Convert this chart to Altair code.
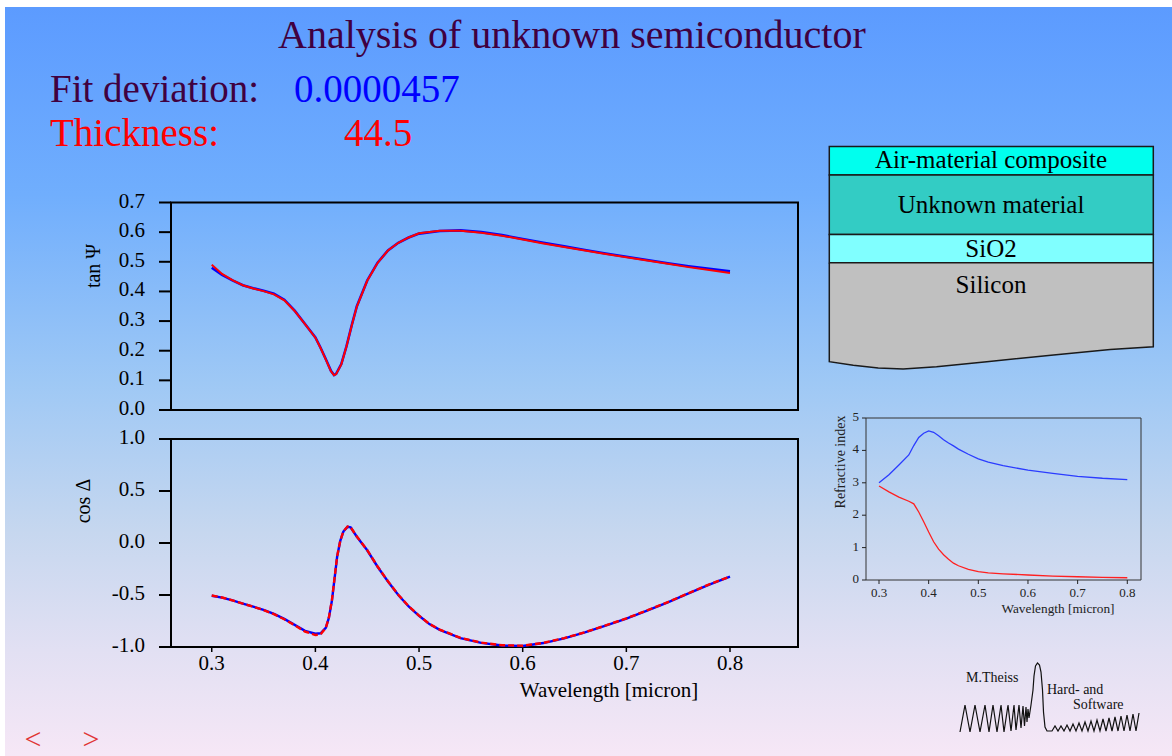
import altair as alt
import pandas as pd

FONT = "Liberation Serif"

# ---------------- data ----------------
# tan(Psi): measured (blue) and fitted (red)
TAN_LAMBDA = [0.30, 0.31, 0.32, 0.33, 0.34, 0.35, 0.36, 0.37, 0.38, 0.39, 0.40,
              0.405, 0.41, 0.415, 0.418, 0.42, 0.425, 0.43, 0.435, 0.44,
              0.45, 0.46, 0.47, 0.48, 0.49, 0.50,
              0.52, 0.54, 0.56, 0.58, 0.60, 0.62, 0.64, 0.66, 0.68, 0.70,
              0.72, 0.74, 0.76, 0.78, 0.80]
TAN_MEAS = [0.480, 0.456, 0.437, 0.421, 0.411, 0.402, 0.392, 0.372, 0.335, 0.290, 0.245,
            0.210, 0.172, 0.132, 0.118, 0.122, 0.155, 0.215, 0.285, 0.350,
            0.437, 0.497, 0.538, 0.564, 0.582, 0.595,
            0.604, 0.606, 0.600, 0.590, 0.577, 0.564, 0.552, 0.540, 0.528, 0.517,
            0.506, 0.495, 0.485, 0.476, 0.468]
TAN_FIT = [0.490, 0.459, 0.438, 0.421, 0.410, 0.401, 0.390, 0.370, 0.334, 0.290, 0.244,
           0.209, 0.171, 0.131, 0.117, 0.121, 0.154, 0.214, 0.284, 0.349,
           0.436, 0.496, 0.538, 0.564, 0.582, 0.596,
           0.605, 0.605, 0.598, 0.588, 0.575, 0.562, 0.550, 0.538, 0.526, 0.515,
           0.504, 0.493, 0.482, 0.472, 0.462]

# cos(Delta): measured (blue) and fitted (red, dashed)
COS_LAMBDA = [0.30, 0.31, 0.32, 0.33, 0.34, 0.35, 0.36, 0.37, 0.38, 0.39, 0.40,
              0.405, 0.41, 0.413, 0.416, 0.419, 0.421, 0.424, 0.427, 0.431, 0.434,
              0.44, 0.45, 0.46, 0.47, 0.48, 0.49, 0.50, 0.51, 0.52,
              0.54, 0.56, 0.58, 0.60, 0.62, 0.64, 0.66, 0.68, 0.70, 0.72, 0.74,
              0.76, 0.78, 0.80]
COS_MEAS = [-0.507, -0.525, -0.552, -0.582, -0.612, -0.642, -0.682, -0.730, -0.787, -0.845, -0.872,
            -0.868, -0.815, -0.720, -0.550, -0.300, -0.130, 0.020, 0.110, 0.155, 0.150,
            0.060, -0.070, -0.228, -0.370, -0.500, -0.610, -0.700, -0.780, -0.835,
            -0.915, -0.960, -0.985, -0.990, -0.962, -0.917, -0.860, -0.795, -0.727, -0.650, -0.570,
            -0.485, -0.400, -0.324]
COS_FIT = [-0.505, -0.524, -0.552, -0.583, -0.613, -0.644, -0.684, -0.733, -0.790, -0.852, -0.885,
           -0.878, -0.818, -0.718, -0.545, -0.295, -0.128, 0.022, 0.112, 0.158, 0.152,
           0.062, -0.068, -0.226, -0.368, -0.498, -0.608, -0.698, -0.778, -0.833,
           -0.913, -0.958, -0.983, -0.988, -0.960, -0.915, -0.858, -0.793, -0.725, -0.648, -0.568,
           -0.483, -0.398, -0.322]

# refractive index n (blue) and extinction k (red) of the unknown material
NK_LAMBDA = [0.30, 0.32, 0.34, 0.36, 0.37, 0.38, 0.39, 0.40, 0.41, 0.42, 0.43, 0.44,
             0.45, 0.46, 0.48, 0.50, 0.52, 0.55, 0.60, 0.65, 0.70, 0.75, 0.80]
N_VALUES = [3.00, 3.25, 3.55, 3.86, 4.15, 4.40, 4.53, 4.60, 4.56, 4.45, 4.33, 4.23,
            4.14, 4.04, 3.88, 3.74, 3.64, 3.53, 3.39, 3.29, 3.20, 3.14, 3.10]
K_VALUES = [2.90, 2.72, 2.56, 2.43, 2.35, 2.10, 1.80, 1.48, 1.18, 0.95, 0.78, 0.64,
            0.52, 0.44, 0.33, 0.26, 0.22, 0.19, 0.155, 0.12, 0.10, 0.08, 0.07]

# tick labels
TICKS_TAN = [0.0, 0.1, 0.2, 0.3, 0.4, 0.5, 0.6, 0.7]
TICKS_COS = [-1.0, -0.5, 0.0, 0.5, 1.0]
TICKS_LAMBDA = [0.3, 0.4, 0.5, 0.6, 0.7, 0.8]
TICKS_NK_Y = [0, 1, 2, 3, 4, 5]
TICKS_NK_X = [0.3, 0.4, 0.5, 0.6, 0.7, 0.8]

# layer stack (depth in relative units, 0 = top of stack)
LAYER_NAMES = ["Air-material composite", "Unknown material", "SiO2"]
LAYER_TOP = [0.0, 12.8, 39.6]
LAYER_BOTTOM = [12.8, 39.6, 52.2]
LAYER_COLORS = ["#00ffee", "#33ccc4", "#80ffff"]
SILICON_TOP = 52.2
SILICON_X = [0.0, 0.074, 0.151, 0.228, 0.331, 0.486, 0.692, 0.867, 1.0]
SILICON_BOTTOM = [96.7, 98.3, 99.6, 100.0, 99.0, 96.7, 93.7, 91.2, 90.0]

# logo trace (logo units)
LOGO_X = [2, 7, 12, 17, 22, 27, 31, 35, 39, 43, 46, 50, 53, 56, 58, 61, 63, 65, 66.5, 68,
          69, 70, 71, 73, 75, 76, 77.5, 79.5, 81.5, 83, 84.5, 85.5, 87, 89, 94,
          97, 100, 103, 106, 109, 112, 115, 118, 121, 124, 127, 130, 133, 136, 139, 142,
          145, 148, 151, 154, 157, 160, 163, 166, 169, 172, 175, 178, 181]
LOGO_Y = [1, 28, 1, 28, 1, 28, 1, 28, 1, 28, 1, 28, 2, 28, 3, 28, 5, 27, 7, 26,
          11, 24, 15, 28, 43, 57, 67, 70, 68, 61, 43, 21, 6, 2, 2,
          7, 2, 7, 2, 8, 2, 9, 2, 10, 2, 11, 2, 12, 2, 13, 2,
          14, 2, 15, 2, 16, 2, 17, 2, 18, 2, 19, 2, 20]

# ---------------- scales ----------------
def S(domain, rng):
    return alt.Scale(domain=domain, range=rng, nice=False, zero=False)

X_MAIN_DOM = [0.2607, 0.8656]
XS_MAIN = S(X_MAIN_DOM, [171, 798])
YS_TOP = S([0.0, 0.7], [410, 202.5])
YS_BOT = S([-1.0, 1.0], [647, 439])
X_NK_DOM = [0.2738, 0.8276]
XS_NK = S(X_NK_DOM, [866, 1141])
YS_NK = S([0, 5], [580, 418])
XS_DIAG = S([0, 1], [829.3, 1153.3])
YS_DIAG = S([0, 100], [146.5, 369])
XS_LOGO = S([0, 182], [958, 1140])
YS_LOGO = S([0, 75], [733, 658])

ONE = pd.DataFrame({"k": [0]})


def label(text, x, y, size, color, align="left", angle=None, baseline="alphabetic"):
    kw = dict(text=text, font=FONT, fontSize=size, color=color, align=align, baseline=baseline)
    if angle is not None:
        kw["angle"] = angle
    return alt.Chart(ONE).mark_text(**kw).encode(x=alt.value(x), y=alt.value(y))


def fmt(v, nd):
    return f"{v:.{nd}f}"


def y_axis(values, scale, nd, x_axis, tick_len, tick_w, gap, size, color):
    df = pd.DataFrame({"v": values, "t": [fmt(v, nd) for v in values]})
    ticks = alt.Chart(df).mark_rule(color=color, strokeWidth=tick_w).encode(
        y=alt.Y("v:Q", scale=scale, axis=None),
        x=alt.value(x_axis - tick_len), x2=alt.value(x_axis))
    labels = alt.Chart(df).mark_text(font=FONT, fontSize=size, color=color, align="right",
                                     baseline="middle", dy=-1).encode(
        y=alt.Y("v:Q", scale=scale, axis=None), x=alt.value(x_axis - tick_len - gap), text="t:N")
    return [ticks, labels]


def x_axis(values, scale, nd, y_axis_px, tick_len, tick_w, label_base, size, color):
    df = pd.DataFrame({"v": values, "t": [fmt(v, nd) for v in values]})
    ticks = alt.Chart(df).mark_rule(color=color, strokeWidth=tick_w).encode(
        x=alt.X("v:Q", scale=scale, axis=None),
        y=alt.value(y_axis_px), y2=alt.value(y_axis_px + tick_len))
    labels = alt.Chart(df).mark_text(font=FONT, fontSize=size, color=color, align="center",
                                     baseline="alphabetic").encode(
        x=alt.X("v:Q", scale=scale, axis=None), y=alt.value(label_base), text="t:N")
    return [ticks, labels]


layers = []

# background gradient
layers.append(
    alt.Chart(ONE).mark_rect(
        fill=alt.Gradient(
            gradient="linear", x1=0, x2=0, y1=0, y2=1,
            stops=[
                alt.GradientStop(color="#5c9bff", offset=0.0),
                alt.GradientStop(color="#70aefd", offset=0.25),
                alt.GradientStop(color="#9ec8f5", offset=0.5),
                alt.GradientStop(color="#c6d7ef", offset=0.7),
                alt.GradientStop(color="#e2e0f3", offset=0.86),
                alt.GradientStop(color="#f6e7f6", offset=1.0),
            ],
        )
    ).encode(x=alt.value(5), x2=alt.value(1172), y=alt.value(7), y2=alt.value(756))
)

# header texts
layers += [
    label("Analysis of unknown semiconductor", 278, 48, 40, "#400040"),
    label("Fit deviation:", 50, 102, 39, "#400040"),
    label("0.0000457", 294, 102, 39, "#0000ff"),
    label("Thickness:", 50, 146, 39, "#ff0000"),
    label("44.5", 344, 146, 39, "#ff0000"),
]

# ---- top plot: tan Psi ----
top_df = pd.DataFrame({"lam": TAN_LAMBDA, "meas": TAN_MEAS, "fit": TAN_FIT})
frame_top = pd.DataFrame({"x0": [X_MAIN_DOM[0]], "x1": [X_MAIN_DOM[1]], "y0": [0.0], "y1": [0.7]})
layers.append(
    alt.Chart(frame_top).mark_rect(fillOpacity=0, stroke="black", strokeWidth=2).encode(
        x=alt.X("x0:Q", scale=XS_MAIN, axis=None), x2="x1:Q",
        y=alt.Y("y0:Q", scale=YS_TOP, axis=None), y2="y1:Q")
)
layers += y_axis(TICKS_TAN, YS_TOP, 1, 171, 12, 2, 14, 21, "black")
layers.append(
    alt.Chart(top_df).mark_line(color="#0000ff", strokeWidth=2.6).encode(
        x=alt.X("lam:Q", scale=XS_MAIN, axis=None), y=alt.Y("meas:Q", scale=YS_TOP, axis=None))
)
layers.append(
    alt.Chart(top_df).mark_line(color="#ff0000", strokeWidth=2).encode(
        x=alt.X("lam:Q", scale=XS_MAIN, axis=None), y=alt.Y("fit:Q", scale=YS_TOP, axis=None))
)
layers.append(label("tan \u03a8", 100, 266, 20, "black", align="center", angle=270))

# ---- bottom plot: cos Delta ----
bot_df = pd.DataFrame({"lam": COS_LAMBDA, "meas": COS_MEAS, "fit": COS_FIT})
frame_bot = pd.DataFrame({"x0": [X_MAIN_DOM[0]], "x1": [X_MAIN_DOM[1]], "y0": [-1.0], "y1": [1.0]})
layers.append(
    alt.Chart(frame_bot).mark_rect(fillOpacity=0, stroke="black", strokeWidth=2).encode(
        x=alt.X("x0:Q", scale=XS_MAIN, axis=None), x2="x1:Q",
        y=alt.Y("y0:Q", scale=YS_BOT, axis=None), y2="y1:Q")
)
layers += y_axis(TICKS_COS, YS_BOT, 1, 171, 12, 2, 14, 21, "black")
layers += x_axis(TICKS_LAMBDA, XS_MAIN, 1, 647, 5, 1.5, 670, 21, "black")
layers.append(
    alt.Chart(bot_df).mark_line(color="#0000ff", strokeWidth=2.4).encode(
        x=alt.X("lam:Q", scale=XS_MAIN, axis=None), y=alt.Y("meas:Q", scale=YS_BOT, axis=None))
)
layers.append(
    alt.Chart(bot_df).mark_line(color="#ff0000", strokeWidth=2.4, strokeDash=[6, 3]).encode(
        x=alt.X("lam:Q", scale=XS_MAIN, axis=None), y=alt.Y("fit:Q", scale=YS_BOT, axis=None))
)
layers.append(label("cos \u0394", 90, 501, 20, "black", align="center", angle=270))
layers.append(label("Wavelength [micron]", 609, 697, 21, "black", align="center"))

# ---- layer stack diagram ----
stack_df = pd.DataFrame({"name": LAYER_NAMES, "x0": [0.0] * 3, "x1": [1.0] * 3,
                         "top": LAYER_TOP, "bottom": LAYER_BOTTOM})
si_df = pd.DataFrame({"sx": SILICON_X, "top": [SILICON_TOP] * len(SILICON_X), "bottom": SILICON_BOTTOM})
outline_x = [0.0] + SILICON_X + [1.0]
outline_y = [SILICON_TOP] + SILICON_BOTTOM + [SILICON_TOP]
outline_df = pd.DataFrame({"sx": outline_x, "sy": outline_y, "i": list(range(len(outline_x)))})

layers.append(
    alt.Chart(si_df).mark_area(fill="#c0c0c0").encode(
        x=alt.X("sx:Q", scale=XS_DIAG, axis=None),
        y=alt.Y("top:Q", scale=YS_DIAG, axis=None), y2="bottom:Q")
)
layers.append(
    alt.Chart(outline_df).mark_line(color="#1a1a1a", strokeWidth=1.5).encode(
        x=alt.X("sx:Q", scale=XS_DIAG, axis=None),
        y=alt.Y("sy:Q", scale=YS_DIAG, axis=None), order="i:Q")
)
layers.append(
    alt.Chart(stack_df).mark_rect(stroke="#1a1a1a", strokeWidth=1.5, opacity=1).encode(
        x=alt.X("x0:Q", scale=XS_DIAG, axis=None), x2="x1:Q",
        y=alt.Y("top:Q", scale=YS_DIAG, axis=None), y2="bottom:Q",
        color=alt.Color("name:N", scale=alt.Scale(domain=LAYER_NAMES, range=LAYER_COLORS), legend=None))
)
layers += [
    label("Air-material composite", 991, 168, 25, "black", align="center"),
    label("Unknown material", 991, 213, 25, "black", align="center"),
    label("SiO2", 991, 256.5, 25, "black", align="center"),
    label("Silicon", 991, 292.5, 25, "black", align="center"),
]

# ---- small n,k chart ----
nk_df = pd.DataFrame({"lam": NK_LAMBDA, "n": N_VALUES, "k": K_VALUES})
frame_nk = pd.DataFrame({"x0": [X_NK_DOM[0]], "x1": [X_NK_DOM[1]], "y0": [0], "y1": [5]})
layers.append(
    alt.Chart(frame_nk).mark_rect(fillOpacity=0, stroke="#333333", strokeWidth=1).encode(
        x=alt.X("x0:Q", scale=XS_NK, axis=None), x2="x1:Q",
        y=alt.Y("y0:Q", scale=YS_NK, axis=None), y2="y1:Q")
)
layers += y_axis(TICKS_NK_Y, YS_NK, 0, 866, 4, 1, 3, 13, "#222222")
layers += x_axis(TICKS_NK_X, XS_NK, 1, 580, 4, 1, 597, 13, "#222222")
layers.append(
    alt.Chart(nk_df).mark_line(color="#2b3cff", strokeWidth=1.3).encode(
        x=alt.X("lam:Q", scale=XS_NK, axis=None), y=alt.Y("n:Q", scale=YS_NK, axis=None))
)
layers.append(
    alt.Chart(nk_df).mark_line(color="#ff2020", strokeWidth=1.3).encode(
        x=alt.X("lam:Q", scale=XS_NK, axis=None), y=alt.Y("k:Q", scale=YS_NK, axis=None))
)
layers.append(label("Refractive index", 845, 462, 14, "#222222", align="center", angle=270))
layers.append(label("Wavelength [micron]", 1058, 613, 13.3, "#222222", align="center"))

# ---- logo ----
logo_df = pd.DataFrame({"lx": LOGO_X, "ly": LOGO_Y, "i": list(range(len(LOGO_X)))})
layers.append(
    alt.Chart(logo_df).mark_line(color="#111111", strokeWidth=1.2).encode(
        x=alt.X("lx:Q", scale=XS_LOGO, axis=None),
        y=alt.Y("ly:Q", scale=YS_LOGO, axis=None), order="i:Q")
)
layers += [
    label("M.Theiss", 966, 682, 14, "#111111"),
    label("Hard- and", 1047, 694, 14, "#111111"),
    label("Software", 1073, 709, 14, "#111111"),
]

# ---- navigation arrows ----
layers += [
    label("<", 33, 749, 30, "#e03535", align="center"),
    label(">", 91, 749, 30, "#e03535", align="center"),
]

chart = (
    alt.layer(*layers)
    .resolve_scale(x="independent", y="independent", color="independent")
    .properties(width=1172, height=756, padding=0,
                autosize=alt.AutoSizeParams(type="none"), background="white")
    .configure_view(strokeWidth=0)
)

chart.save("out.html", embed_options={"renderer": "svg", "actions": False})
